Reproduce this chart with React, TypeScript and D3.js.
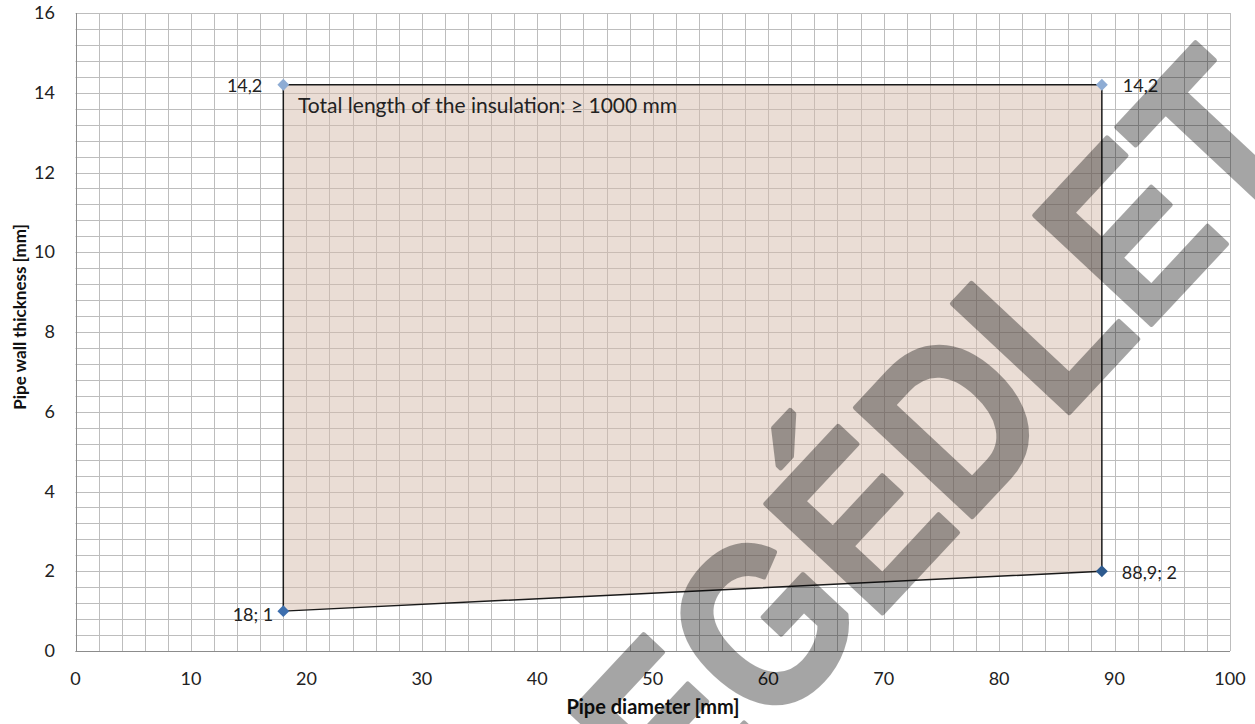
import React from 'react';
import * as d3 from 'd3';

const W = 1255;
const H = 724;

const xTicks = [0, 10, 20, 30, 40, 50, 60, 70, 80, 90, 100];
const yTicks = [0, 2, 4, 6, 8, 10, 12, 14, 16];
const xMinorStep = 2;
const yMinorStep = 0.4;

const regionX = [18, 18, 88.9, 88.9];
const regionY = [1, 14.2, 14.2, 2];
const pointLabels = ['18; 1', '14,2', '14,2', '88,9; 2'];

const xTitle = 'Pipe diameter [mm]';
const yTitle = 'Pipe wall thickness [mm]';
const note = 'Total length of the insulation: \u2265 1000 mm';
const watermark = 'SEGÉDLET';

const FONT = 'Lato, Carlito, "Open Sans", sans-serif';

export default function App() {
  const x = d3.scaleLinear().domain([0, 100]).range([75.5, 1230]);
  const y = d3.scaleLinear().domain([0, 16]).range([651, 13]);

  const xGrid = d3.range(0, 100 + 1e-6, xMinorStep);
  const yGrid = d3.range(0, 16 + 1e-6, yMinorStep);

  const pts: [number, number][] = regionX.map((v, i) => [x(v), y(regionY[i])]);
  const poly = d3.line()(pts.concat([pts[0]])) as string;

  const labelPos = [
    { dx: -10, dy: 10, anchor: 'end' },
    { dx: -21, dy: 7, anchor: 'end' },
    { dx: 21, dy: 7, anchor: 'start' },
    { dx: 20, dy: 8, anchor: 'start' },
  ];
  const markerColors = ['#3d6fae', '#8eacd4', '#8eacd4', '#2d5a8e'];

  return (
    <svg width={W} height={H} style={{ position: 'absolute', left: 0, top: 0, background: '#fff' }} fontFamily={FONT}>
      <rect x={0} y={0} width={W} height={H} fill="#fff" />
      {/* grid */}
      <g stroke="#bdbdbd" strokeWidth={1}>
        {xGrid.map((v) => (
          <line key={'gx' + v} x1={Math.round(x(v)) + 0.5} x2={Math.round(x(v)) + 0.5} y1={y(16)} y2={y(0)} />
        ))}
        {yGrid.map((v) => (
          <line key={'gy' + v} x1={x(0)} x2={x(100)} y1={Math.round(y(v)) + 0.5} y2={Math.round(y(v)) + 0.5} />
        ))}
      </g>
      {/* axes */}
      <line x1={x(0)} x2={x(100)} y1={Math.round(y(0)) + 0.5} y2={Math.round(y(0)) + 0.5} stroke="#8c8c8c" />
      <line x1={Math.round(x(0)) + 0.5} x2={Math.round(x(0)) + 0.5} y1={y(0)} y2={y(16)} stroke="#8c8c8c" />

      {/* region */}
      <path d={poly} fill="#d6bcac" fillOpacity={0.5} stroke="none" />
      <path d={poly} fill="none" stroke="#1a1a1a" strokeWidth={1.5} />

      {/* markers */}
      {pts.map((p, i) => (
        <path
          key={'m' + i}
          d={d3.symbol(d3.symbolDiamond2, 90)() as string}
          transform={`translate(${p[0]},${p[1]})`}
          fill={markerColors[i]}
        />
      ))}

      {/* point labels */}
      {pts.map((p, i) => (
        <text
          key={'l' + i}
          x={p[0] + labelPos[i].dx}
          y={p[1] + labelPos[i].dy}
          textAnchor={labelPos[i].anchor as any}
          fontSize={18}
          fill="#222"
        >
          {pointLabels[i]}
        </text>
      ))}

      {/* note */}
      <text x={298} y={113} fontSize={21} fill="#222">
        {note}
      </text>

      {/* tick labels */}
      {yTicks.map((v) => (
        <text key={'yt' + v} x={55} y={y(v) + 6} textAnchor="end" fontSize={18} fill="#222">
          {v}
        </text>
      ))}
      {xTicks.map((v) => (
        <text key={'xt' + v} x={x(v)} y={685} textAnchor="middle" fontSize={18} fill="#222">
          {v}
        </text>
      ))}

      {/* axis titles */}
      <text x={653} y={714} textAnchor="middle" fontSize={20} fontWeight="bold" fill="#111">
        {xTitle}
      </text>
      <text
        transform={`translate(26,317) rotate(-90)`}
        textAnchor="middle"
        fontSize={17}
        fontWeight="bold"
        fill="#111"
      >
        {yTitle}
      </text>

      {/* watermark */}
      <g opacity={0.35}>
        <text
          transform="translate(1314,150) rotate(-47) scale(0.85,1)"
          textAnchor="end"
          fontSize={232}
          fontWeight="bold"
          fontFamily='"Liberation Sans", Arial, sans-serif'
          fill="#000"
          stroke="#000"
          strokeWidth={5}
          strokeLinejoin="round"
        >
          {watermark}
        </text>
      </g>
    </svg>
  );
}
